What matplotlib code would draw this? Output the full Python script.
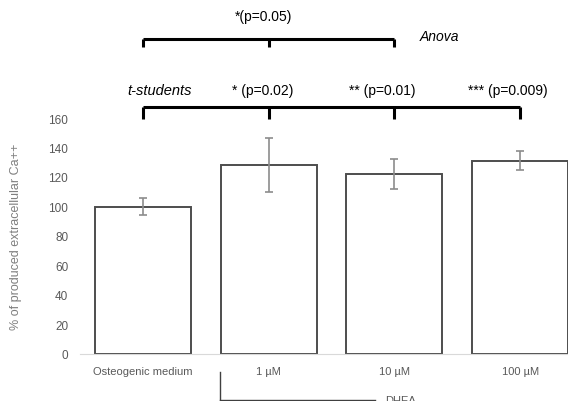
import numpy as np
import matplotlib
matplotlib.use("Agg")
import matplotlib.pyplot as plt

plt.rcParams['font.family'] = ['Liberation Sans', 'DejaVu Sans']

categories = ["Osteogenic medium", "1 \u00b5M", "10 \u00b5M", "100 \u00b5M"]
values = [100, 128, 122, 131]
errors = [5.5, 18.5, 10, 6.5]

ttest_labels = ["* (p=0.02)", "** (p=0.01)", "*** (p=0.009)"]
anova_label = "*(p=0.05)"

fig = plt.figure(figsize=(5.68, 4.02), dpi=100)
ax = fig.add_axes([80/568, 47/402, 503/568, 236/402])

x = np.arange(len(categories))
ax.bar(x, values, width=0.765, color="white", edgecolor="#4d4d4d", linewidth=1.4)
ax.errorbar(x, values, yerr=errors, fmt="none", ecolor="#8c8c8c",
            elinewidth=1.2, capsize=2.7, capthick=1.2)

ax.set_xlim(-0.5, 3.5)
ax.set_ylim(0, 160)
ax.set_yticks(np.arange(0, 161, 20))
ax.set_xticks(x)
ax.set_xticklabels(categories)
ax.tick_params(axis="both", length=0, colors="#595959", labelsize=8)
ax.tick_params(axis="y", labelsize=8.5, pad=8.5)
ax.tick_params(axis="x", pad=9)
for s in ["top", "right", "left"]:
    ax.spines[s].set_visible(False)
ax.spines["bottom"].set_color("#d9d9d9")
ax.set_ylabel("% of produced extracellular Ca++", color="#7f7f7f", fontsize=9)
ax.yaxis.set_label_coords(-0.115, 0.5)


def bracket(xs, y, drop):
    kw = dict(color="black", lw=2.2, clip_on=False, solid_capstyle="butt")
    ax.plot([xs[0], xs[-1]], [y, y], **kw)
    for xi in xs:
        ax.plot([xi, xi], [y, y - drop], **kw)


# t-test bracket
bracket(x, 167.5, 8)
ax.text(0.13, 179, "t-students", style="italic", fontsize=10.5, ha="center", va="center")
for xi, off, lab in zip(x[1:], [-0.05, -0.095, -0.10], ttest_labels):
    ax.text(xi + off, 179, lab, fontsize=10, ha="center", va="center")

# anova bracket
bracket(x[:3], 213.5, 5.5)
ax.text(0.96, 229, anova_label, fontsize=10, ha="center", va="center")
ax.text(2.2, 215.5, "Anova", style="italic", fontsize=10, ha="left", va="center")

# DHEA group marker
fig.add_artist(plt.Line2D([220/568, 220/568], [1 - 373/402, 0], color="#404040", lw=1))
fig.add_artist(plt.Line2D([220/568, 375/568], [1 - 400.5/402, 1 - 400.5/402], color="#404040", lw=1))
fig.text(385/568, 1 - 396/402, "DHEA", fontsize=8, color="#595959", ha="left", va="top")

fig.savefig("out.png", dpi=100)
